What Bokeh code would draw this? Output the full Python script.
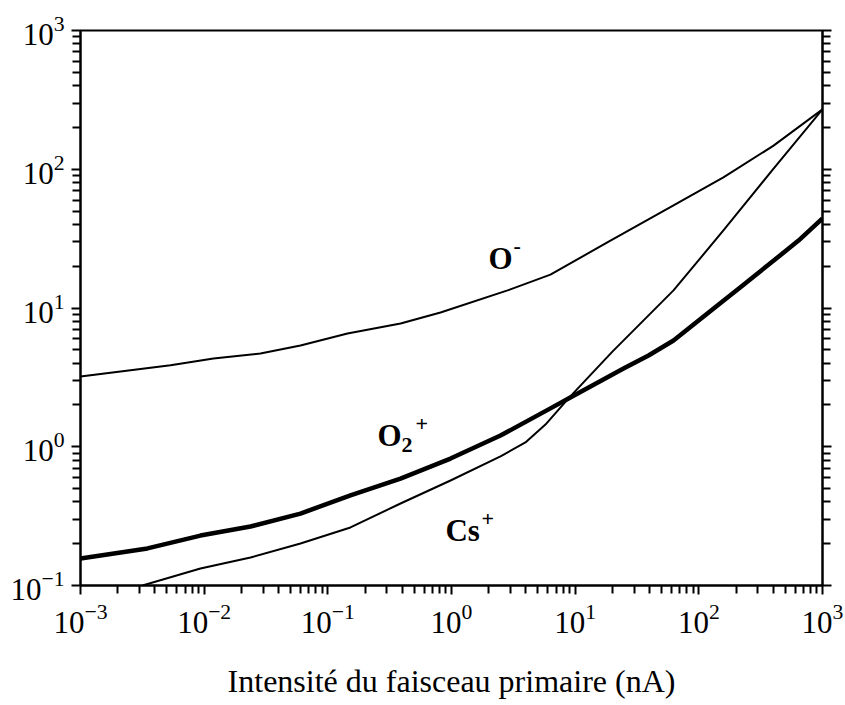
from bokeh.plotting import figure
from bokeh.models import Range1d, LogAxis, FixedTicker, CustomJSTickFormatter
from bokeh.core.properties import value
from bokeh.embed import file_html
from bokeh.resources import INLINE

# Primary beam intensity (nA) and ion yield curves
o_minus_x = [0.001, 0.00535, 0.01189, 0.0285, 0.0601, 0.1442, 0.3873, 0.815,
             2.84, 6.31, 18.2, 62.4, 158, 402, 1000]
o_minus_y = [3.21, 3.86, 4.33, 4.70, 5.37, 6.55, 7.73, 9.29,
             13.4, 17.4, 29.7, 54.8, 87.3, 148, 270]

cs_plus_x = [0.00317, 0.00933, 0.0237, 0.0601, 0.1524, 0.387, 0.982, 2.49,
             3.96, 5.75, 8.83, 20.0, 62.4, 158, 402, 1000]
cs_plus_y = [0.100, 0.1327, 0.159, 0.201, 0.262, 0.390, 0.571, 0.852,
             1.074, 1.445, 2.23, 4.85, 13.4, 36.2, 101, 270]

o2_plus_x = [0.001, 0.00348, 0.00933, 0.0237, 0.0601, 0.1524, 0.387, 0.982,
             2.49, 6.31, 8.83, 24.6, 39.2, 62.4, 158, 217, 640, 1000]
o2_plus_y = [0.1567, 0.185, 0.229, 0.266, 0.330, 0.446, 0.590, 0.822,
             1.205, 1.89, 2.23, 3.66, 4.55, 5.83, 11.3, 14.1, 30.6, 44.2]

# Curve labels: base text, anchor, and the raised / lowered parts
label_base = ["O", "O", "Cs"]
label_x = [1.99, 0.252, 0.894]
label_y = [22.8, 1.205, 0.249]
sup_text = ["-", "+", "+"]
sup_dx = [25, 38, 36]
sub_text = ["2"]
sub_dx = [24]

x_major = [1e-3, 1e-2, 1e-1, 1e0, 1e1, 1e2, 1e3]
y_major = [1e-1, 1e0, 1e1, 1e2, 1e3]


def minor_ticks(first_exp, last_exp):
    return [k * 10.0 ** e for e in range(first_exp, last_exp) for k in range(2, 10)]


p = figure(width=845, height=705, x_axis_type="log", y_axis_type="log",
           x_range=Range1d(1e-3, 1e3), y_range=Range1d(1e-1, 1e3),
           output_backend="svg", toolbar_location=None,
           min_border_left=80, min_border_right=23,
           min_border_top=30, min_border_bottom=120)
p.grid.visible = False
p.outline_line_color = "black"
p.outline_line_width = 2
p.background_fill_color = "white"
p.border_fill_color = "white"

p.xaxis.ticker = FixedTicker(ticks=x_major, minor_ticks=minor_ticks(-3, 3))
p.yaxis.ticker = FixedTicker(ticks=y_major, minor_ticks=minor_ticks(-1, 3))

right = LogAxis(ticker=FixedTicker(ticks=y_major, minor_ticks=minor_ticks(-1, 3)),
                formatter=CustomJSTickFormatter(code="return ''"))
p.add_layout(right, "right")

for ax in (p.xaxis[0], p.yaxis[0], right):
    ax.axis_line_width = 2
    ax.major_tick_line_width = 2
    ax.minor_tick_line_width = 2
    ax.major_tick_in = 0
    ax.major_tick_out = 9
    ax.minor_tick_in = 0
    ax.minor_tick_out = 8
    ax.major_label_text_font = "Liberation Serif"
    ax.major_label_text_font_size = "31px"
    ax.major_label_text_color = "black"

p.xaxis.major_label_standoff = 9
p.yaxis.major_label_standoff = 7
right.major_label_standoff = 0

p.xaxis.axis_label = "Intensité du faisceau primaire (nA)"
p.xaxis.axis_label_text_font = "Liberation Serif"
p.xaxis.axis_label_text_font_style = "normal"
p.xaxis.axis_label_text_font_size = "32px"
p.xaxis.axis_label_text_color = "black"
p.xaxis.axis_label_standoff = 27

p.line(o_minus_x, o_minus_y, line_color="black", line_width=2, line_join="round")
p.line(cs_plus_x, cs_plus_y, line_color="black", line_width=2, line_join="round")
p.line(o2_plus_x, o2_plus_y, line_color="black", line_width=4.5, line_join="round")

font = value("Liberation Serif")
p.text(x=label_x, y=label_y, text=label_base, text_font=font,
       text_font_style="bold", text_font_size="31px",
       text_align="left", text_baseline="alphabetic", text_color="black")
p.text(x=label_x, y=label_y, text=sup_text, text_font=font,
       text_font_style="bold", text_font_size="22px", x_offset=sup_dx, y_offset=-12,
       text_align="left", text_baseline="alphabetic", text_color="black")
p.text(x=label_x[1:2], y=label_y[1:2], text=sub_text, text_font=font,
       text_font_style="bold", text_font_size="22px", x_offset=sub_dx, y_offset=9,
       text_align="left", text_baseline="alphabetic", text_color="black")

open("out.html", "w").write(file_html(p, INLINE))
